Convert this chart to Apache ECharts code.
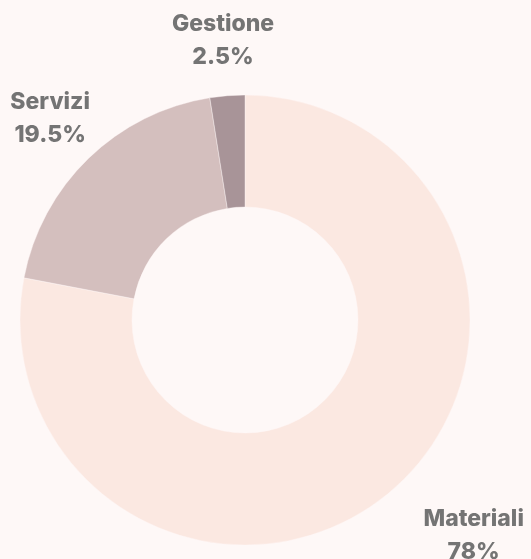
<!DOCTYPE html>
<html>
<head>
<meta charset="utf-8">
<script src="https://cdn.jsdelivr.net/npm/echarts@6/dist/echarts.min.js"></script>
<style>
  html, body { margin: 0; padding: 0; background: #FEF8F7; }
  #chart { width: 531px; height: 559px; }
</style>
</head>
<body>
<div id="chart"></div>
<script>
// Cost breakdown by category
const categories = ['Materiali', 'Servizi', 'Gestione'];
const values = [78, 19.5, 2.5];
const valueLabels = ['78%', '19.5%', '2.5%'];

const sliceColors = ['#FBE8E1', '#D4BFBE', '#A89498'];
// label block anchored by its left edge (1) or by its centre (0)
const anchorLeft = [1, 0, 0];

const cx = 245, cy = 320, labelDist = 280;
const total = values.reduce((a, b) => a + b, 0);

// mid-angle of every slice, clockwise from 12 o'clock
const midAngles = [];
let acc = 0;
values.forEach(v => {
  midAngles.push((acc + v / 2) / total * Math.PI * 2);
  acc += v;
});

const chart = echarts.init(document.getElementById('chart'));
chart.setOption({
  backgroundColor: '#FEF8F7',
  animation: false,
  series: [{
    type: 'pie',
    center: [cx, cy],
    radius: [113, 225],
    startAngle: 90,
    clockwise: true,
    avoidLabelOverlap: false,
    itemStyle: { borderColor: 'rgba(254,248,247,0.4)', borderWidth: 1 },
    label: {
      show: true,
      position: 'outside',
      formatter: p => p.name + '\n' + valueLabels[p.dataIndex],
      fontFamily: 'Inter',
      fontWeight: 800,
      fontSize: 23,
      lineHeight: 33,
      color: '#747474',
      align: 'center'
    },
    labelLine: { show: false },
    labelLayout: p => {
      const a = midAngles[p.dataIndex];
      const shift = anchorLeft[p.dataIndex] ? p.labelRect.width / 2 : 0;
      return {
        x: cx + Math.sin(a) * labelDist + shift,
        y: cy - Math.cos(a) * labelDist,
        align: 'center',
        verticalAlign: 'middle'
      };
    },
    data: categories.map((c, i) => ({
      name: c,
      value: values[i],
      itemStyle: { color: sliceColors[i] }
    }))
  }]
});
</script>
</body>
</html>
